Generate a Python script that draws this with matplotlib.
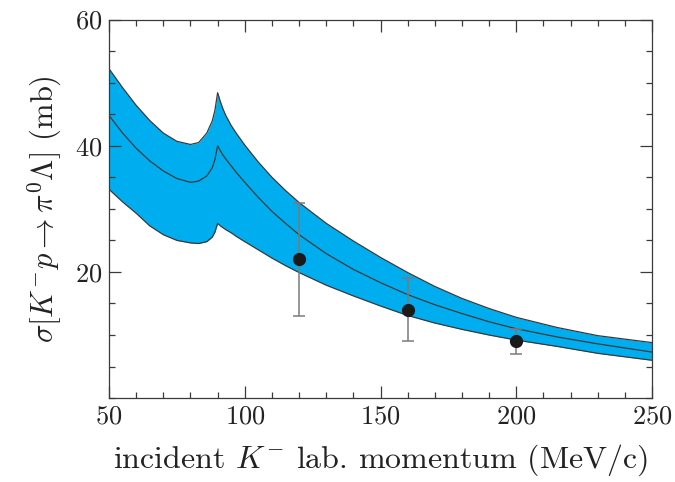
import matplotlib.pyplot as plt
from matplotlib.ticker import MultipleLocator

plt.rcParams['font.family'] = 'cmr10'
plt.rcParams['mathtext.fontset'] = 'cm'
plt.rcParams['axes.formatter.use_mathtext'] = True

# theory band (lab momentum in MeV/c, cross section in mb)
p_lab = [50, 55, 60, 65, 70, 75, 80, 83, 86, 88, 89, 90, 91, 92, 93, 95, 97, 100, 105,
         110, 115, 120, 130, 140, 150, 160, 170, 180, 190, 200, 215, 230, 250]
sigma_up = [52.2, 49.2, 46.4, 44.0, 42.0, 40.7, 40.2, 40.5, 42.0, 43.9, 45.6, 48.4, 47.0,
            45.8, 44.8, 43.2, 41.9, 40.1, 37.4, 35.0, 32.9, 31.0, 27.7, 24.9, 22.3, 19.9,
            17.7, 15.8, 14.2, 12.8, 11.2, 9.9, 8.8]
sigma_mid = [44.8, 42.0, 39.6, 37.6, 36.0, 34.8, 34.2, 34.4, 35.2, 36.5, 37.8, 40.0, 39.2,
             38.5, 37.9, 36.8, 35.7, 34.2, 31.8, 29.6, 27.7, 25.9, 22.9, 20.4, 18.3, 16.4,
             14.8, 13.4, 12.1, 11.0, 9.7, 8.6, 7.3]
sigma_lo = [33.1, 31.1, 29.3, 27.3, 25.9, 25.0, 24.6, 24.5, 24.8, 25.5, 26.3, 27.7, 27.3,
            27.0, 26.7, 26.2, 25.6, 24.8, 23.5, 22.2, 21.0, 19.9, 17.9, 16.2, 14.6, 13.1,
            11.9, 10.9, 10.0, 9.2, 8.2, 7.1, 6.0]

# measured points
p_data = [120, 160, 200]
sigma_data = [22.0, 14.0, 9.0]
err_lo = [9.0, 5.0, 2.0]
err_hi = [9.0, 5.0, 2.0]

fig = plt.figure(figsize=(6.75, 4.82), dpi=100)
ax = fig.add_axes([0.1615, 0.174, 0.8045, 0.7855])

edge = '#3a3a3a'
ax.fill_between(p_lab, sigma_lo, sigma_up, color='#00aeef', lw=0, zorder=1)
ax.plot(p_lab, sigma_up, color=edge, lw=0.9, zorder=2)
ax.plot(p_lab, sigma_lo, color=edge, lw=0.9, zorder=2)
ax.plot(p_lab, sigma_mid, color=edge, lw=0.9, zorder=2)

ax.errorbar(p_data, sigma_data, yerr=[err_lo, err_hi], fmt='none', ecolor='#7a7a7a',
            elinewidth=1.1, capsize=4.5, capthick=1.1, zorder=3)
ax.plot(p_data, sigma_data, 'o', color='#1a1a1a', ms=8.5, zorder=4)

ax.set_xlim(50, 250)
ax.set_ylim(0, 60)
ax.set_xticks([50, 100, 150, 200, 250])
ax.set_yticks([20, 40, 60])
ax.xaxis.set_minor_locator(MultipleLocator(10))
ax.yaxis.set_minor_locator(MultipleLocator(5))
ax.tick_params(which='both', direction='in', top=True, right=True, colors='#3a3a3a',
               labelcolor='#222222', labelsize=19, width=0.9)
ax.tick_params(which='major', length=8.5, pad=5)
ax.tick_params(which='minor', length=4)
for s in ax.spines.values():
    s.set_color('#3a3a3a')
    s.set_linewidth(0.9)

ax.set_xlabel(r'incident $K^{-}$ lab. momentum (MeV/c)', fontsize=23, color='#222222',
              labelpad=10)
ax.set_ylabel(r'$\sigma[K^{-}p\rightarrow\pi^{0}\Lambda]$ (mb)', fontsize=22,
              color='#222222', labelpad=8)

fig.savefig('out.png', dpi=100)
